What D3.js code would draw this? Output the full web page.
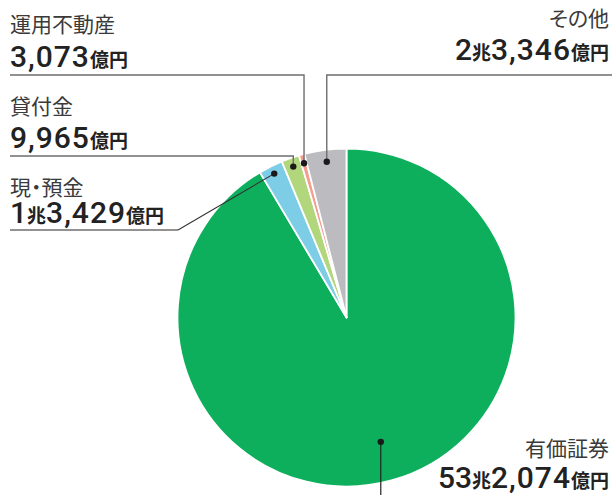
<!DOCTYPE html>
<html><head><meta charset="utf-8">
<script src="https://cdn.jsdelivr.net/npm/d3@7"></script>
<style>
html,body{margin:0;padding:0;background:#fff;}
svg{display:block;}
.nm{font-feature-settings:"palt";}
</style></head>
<body>
<svg id="c" width="616" height="495"></svg>
<script>
// Data
const categories = ["有価証券","現・預金","貸付金","運用不動産","その他"];
const values = [532074, 13429, 9965, 3073, 23346]; // 億円
const bigParts = ["53", "1", "", "", "2"];          // 兆 part
const smallParts = ["2,074", "3,429", "9,965", "3,073", "3,346"];
const colors = ["#0daf5c", "#7ecde6", "#b2d67c", "#f59b8f", "#bcbcc0"];

const W = 616, H = 495;
const cx = 346.5, cy = 317.5, R = 169;
const svg = d3.select("#c");

const pie = d3.pie().sort(null).value(d => d)(values);
const arc = d3.arc().innerRadius(0).outerRadius(R);

const g = svg.append("g").attr("transform", `translate(${cx},${cy})`);
g.selectAll("path").data(pie).join("path")
  .attr("d", arc)
  .attr("fill", (d, i) => colors[i])
  .attr("stroke", "#fff").attr("stroke-width", 1.8).attr("stroke-linejoin", "round");

// dot positions from slice mid-angles
const dotR = [129, 161, 160, 160, 157];
function dotPos(i) {
  const a = (pie[i].startAngle + pie[i].endAngle) / 2;
  return [cx + dotR[i] * Math.sin(a), cy - dotR[i] * Math.cos(a)];
}
const dots = pie.map((d, i) => dotPos(i));

const layout = [
  {x: 609, nameY: 456, numY: 488, anchor: "end"},
  {x: 10, nameY: 195, numY: 223, anchor: "start"},
  {x: 10, nameY: 114, numY: 148, anchor: "start"},
  {x: 10, nameY: 32, numY: 67, anchor: "start"},
  {x: 609, nameY: 26, numY: 60, anchor: "end"}
];

const lineColor = "#6e6e6e";
const lines = svg.append("g").attr("fill", "none").attr("stroke", lineColor).attr("stroke-width", 1.4);
lines.append("path").attr("stroke", "#222").attr("stroke-width", 1.2)
  .attr("d", `M${dots[0][0]},${dots[0][1]}V${H}`);
lines.append("path").attr("d", `M10,230H178`);
lines.append("path").attr("stroke", "#333").attr("stroke-width", 1.1)
  .attr("d", `M178,230L${dots[1][0]},${dots[1][1]}`);
lines.append("path").attr("d", `M10,156H${dots[2][0]}V${dots[2][1]}`);
lines.append("path").attr("d", `M10,75H${dots[3][0]}V${dots[3][1]}`);
lines.append("path").attr("d", `M612,75H${dots[4][0]}V${dots[4][1]}`);

svg.append("g").selectAll("circle").data(dots).join("circle")
  .attr("cx", d => d[0]).attr("cy", d => d[1]).attr("r", 3.2).attr("fill", "#1a1a1a");

const numFont = "Roboto, 'Noto Sans', sans-serif";
const cjkFont = "'Noto Sans CJK JP', 'Noto Sans', sans-serif";
layout.forEach((L, i) => {
  svg.append("text").attr("class", "nm").attr("x", L.x).attr("y", L.nameY)
    .attr("text-anchor", L.anchor)
    .attr("font-family", cjkFont).attr("font-size", 21).attr("font-weight", 400)
    .attr("fill", "#3a3a3a").text(categories[i]);
  const t = svg.append("text").attr("x", L.x).attr("y", L.numY)
    .attr("text-anchor", L.anchor).attr("fill", "#222");
  if (bigParts[i]) {
    t.append("tspan").attr("font-family", numFont).attr("font-weight", 500).attr("font-size", 30).text(bigParts[i]);
    t.append("tspan").attr("font-family", cjkFont).attr("font-weight", 700).attr("font-size", 19).text("兆");
  }
  t.append("tspan").attr("font-family", numFont).attr("font-weight", 500).attr("font-size", 30)
    .attr("letter-spacing", 1).text(smallParts[i]);
  t.append("tspan").attr("font-family", cjkFont).attr("font-weight", 700).attr("font-size", 19).text("億円");
});
</script>
</body></html>
